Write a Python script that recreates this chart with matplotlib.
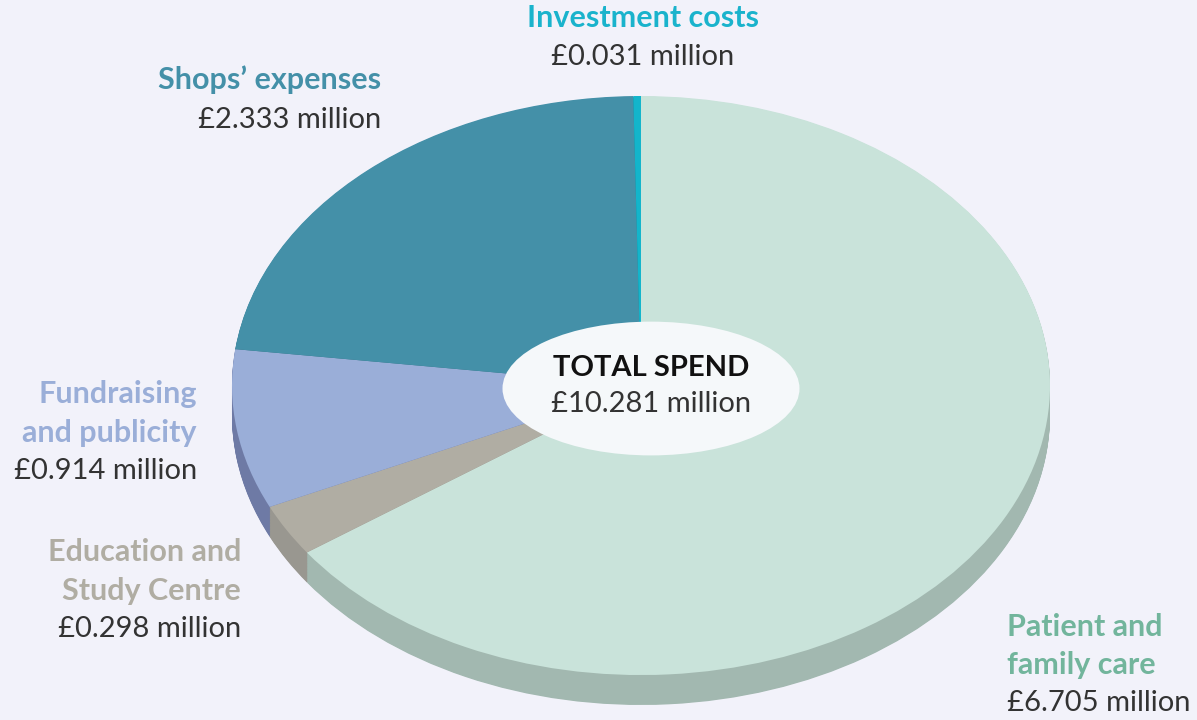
import matplotlib.pyplot as plt
from matplotlib.patches import Ellipse

# Spend breakdown (GBP million), drawn clockwise from 12 o'clock
categories = ["Patient and family care", "Education and Study Centre",
              "Fundraising and publicity", "Shops' expenses", "Investment costs"]
values = [6.705, 0.298, 0.914, 2.333, 0.031]
total = 10.281

top_colors = ["#c9e3da", "#b0ada3", "#9aaed8", "#4490a8", "#13b5cb"]
side_colors = ["#a2b8b0", "#999790", "#6e7aa5", "#346f82", "#0e8a9b"]
label_colors = ["#72b59c", "#b0ada3", "#9aaed8", "#4490a8", "#1ab3cc"]

BG = "#f2f2fa"
plt.rcParams['font.family'] = ['Lato', 'DejaVu Sans']

fig = plt.figure(figsize=(11.97, 7.2), dpi=100, facecolor=BG)

# pie axes: ellipse squashed by axes shape, extra room below for thickness
W, H = 1197, 720
left, right, top, bottom = 232, 1050, 96, 705
ax = fig.add_axes([left / W, (H - bottom) / H, (right - left) / W, (bottom - top) / H])
ax.set_facecolor("none")
ry = 290.0
depth = 30 / ry

# side of the disc: stacked copies shifted down
n_layers = 40
for i in range(n_layers):
    off = -depth + depth * i / n_layers
    ax.pie(values, colors=side_colors, startangle=90, counterclock=False,
           center=(0, off), radius=1, wedgeprops=dict(linewidth=0, antialiased=True))
# top face
ax.pie(values, colors=top_colors, startangle=90, counterclock=False,
       center=(0, 0), radius=1, wedgeprops=dict(linewidth=0))

ax.add_patch(Ellipse((10 / 409, -3 / ry), 297 / 409, 134 / ry,
                     facecolor="#f5f8fa", edgecolor="none", zorder=5))
ax.set_xlim(-1, 1)
ax.set_ylim(-1 - depth, 1)
ax.set_aspect('auto')
ax.axis('off')

# text layer in pixel coordinates
tx = fig.add_axes([0, 0, 1, 1])
tx.set_xlim(0, W)
tx.set_ylim(H, 0)
tx.axis('off')
tx.patch.set_alpha(0)

VAL = "#333333"
FS_HEAD = 22
FS_VAL = 21


def label(x, ys, lines, color, value, ha):
    for y, line in zip(ys[:-1], lines):
        tx.text(x, y, line, color=color, fontsize=FS_HEAD, fontweight='bold',
                ha=ha, va='center')
    tx.text(x, ys[-1], f"£{value:.3f} million", color=VAL, fontsize=FS_VAL,
            ha=ha, va='center')


label(643, [18, 57], ["Investment costs"], label_colors[4], values[4], 'center')
label(381, [80, 120], ["Shops\u2019 expenses"], label_colors[3], values[3], 'right')
label(197, [394, 433, 471], ["Fundraising", "and publicity"], label_colors[2], values[2], 'right')
label(241, [552, 591, 629], ["Education and", "Study Centre"], label_colors[1], values[1], 'right')
label(1007, [627, 665, 703], ["Patient and", "family care"], label_colors[0], values[0], 'left')

tx.text(651, 368, "TOTAL SPEND", color="#111111", fontsize=FS_VAL, fontweight='bold',
        ha='center', va='center', zorder=10)
tx.text(651, 404, f"£{total:.3f} million", color=VAL, fontsize=FS_VAL,
        ha='center', va='center', zorder=10)

fig.savefig("out.png", dpi=100, facecolor=BG)
